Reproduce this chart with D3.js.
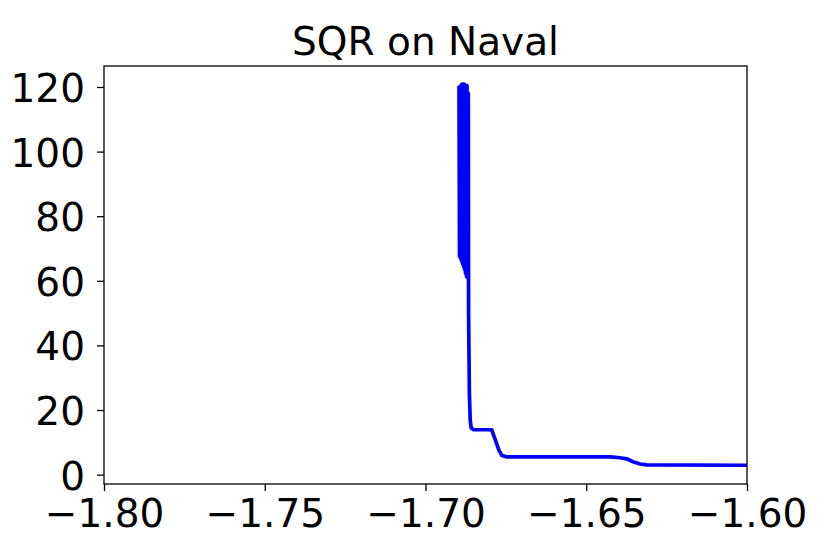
<!DOCTYPE html>
<html>
<head>
<meta charset="utf-8">
<script src="https://cdn.jsdelivr.net/npm/d3@7"></script>
<style>
  body { margin: 0; background: #fff; }
  text { font-family: "DejaVu Sans", sans-serif; fill: #000; }
</style>
</head>
<body>
<div class="container"></div>
<script>
var chartTitle = "SQR on Naval";

// x positions of the curve
var xValues = [
    -1.68958, -1.68942, -1.68927, -1.68911, -1.68896, -1.68880, -1.68865, -1.68849,
    -1.68834, -1.68818, -1.68803, -1.68787, -1.68771, -1.68756, -1.68740, -1.68725,
    -1.68709, -1.68694, -1.68669, -1.68660, -1.68635, -1.68610, -1.68579, -1.68513,
    -1.67941, -1.67901, -1.67714, -1.67621, -1.67474, -1.64261, -1.64012, -1.63742,
    -1.63546, -1.63328, -1.63120, -1.60000
];

// y values of the curve
var yValues = [
    120.3, 67.6, 120.2, 67.0, 120.4, 66.2, 120.9, 65.3,
    120.8, 64.5, 120.9, 63.6, 120.6, 62.4, 120.5, 61.3,
    120.4, 61.0, 118.0, 50.0, 25.0, 17.0, 14.5, 13.9,
    13.9, 12.8, 7.5, 5.9, 5.5, 5.5, 5.3, 4.9,
    4.0, 3.3, 3.0, 2.9
];

var xTicks = [-1.80, -1.75, -1.70, -1.65, -1.60];
var yTicks = [0, 20, 40, 60, 80, 100, 120];

var xDomain = [-1.80, -1.60];
var yDomain = [-2.9, 126.5];

var margin = { top: 66, right: 84, bottom: 70, left: 104 };
var width = 643;
var height = 418;

var data = xValues.map(function(d, i) { return { x: d, y: yValues[i] }; });

var svg = d3.select("body").select(".container")
    .append("svg")
    .attr("width", 831)
    .attr("height", 554)
    .append("g")
    .attr("transform", "translate(" + margin.left + "," + margin.top + ")");

var x = d3.scaleLinear().domain(xDomain).range([0, width]);
var y = d3.scaleLinear().domain(yDomain).range([height, 0]);

svg.append("defs").append("clipPath")
    .attr("id", "plot-clip")
    .append("rect")
    .attr("width", width)
    .attr("height", height);

var line = d3.line()
    .x(function(d) { return x(d.x); })
    .y(function(d) { return y(d.y); });

svg.append("path")
    .datum(data)
    .attr("clip-path", "url(#plot-clip)")
    .attr("fill", "none")
    .attr("stroke", "#0000ff")
    .attr("stroke-width", 3.7)
    .attr("stroke-linejoin", "round")
    .attr("d", line);

// axes
var xAxis = svg.append("g")
    .attr("transform", "translate(0," + height + ")")
    .call(d3.axisBottom(x)
        .tickValues(xTicks)
        .tickSize(7)
        .tickPadding(8)
        .tickFormat(function(d) { return d3.format(".2f")(d).replace("-", "\u2212"); }));

var yAxis = svg.append("g")
    .call(d3.axisLeft(y)
        .tickValues(yTicks)
        .tickSize(7)
        .tickPadding(12));

[xAxis, yAxis].forEach(function(g) {
    g.select(".domain").remove();
    g.selectAll(".tick line").attr("stroke", "#000").attr("stroke-width", 1.3);
    g.selectAll(".tick text")
        .style("font-family", "'DejaVu Sans', sans-serif")
        .style("font-size", "39px")
        .attr("fill", "#000");
});

xAxis.selectAll(".tick text").attr("dy", "0.73em");
yAxis.selectAll(".tick text").attr("dy", "0.37em");

// frame
svg.append("rect")
    .attr("width", width)
    .attr("height", height)
    .attr("fill", "none")
    .attr("stroke", "#000")
    .attr("stroke-width", 1.3);

svg.append("text")
    .attr("x", width / 2)
    .attr("y", -11)
    .attr("text-anchor", "middle")
    .style("font-size", "39px")
    .text(chartTitle);
</script>
</body>
</html>
